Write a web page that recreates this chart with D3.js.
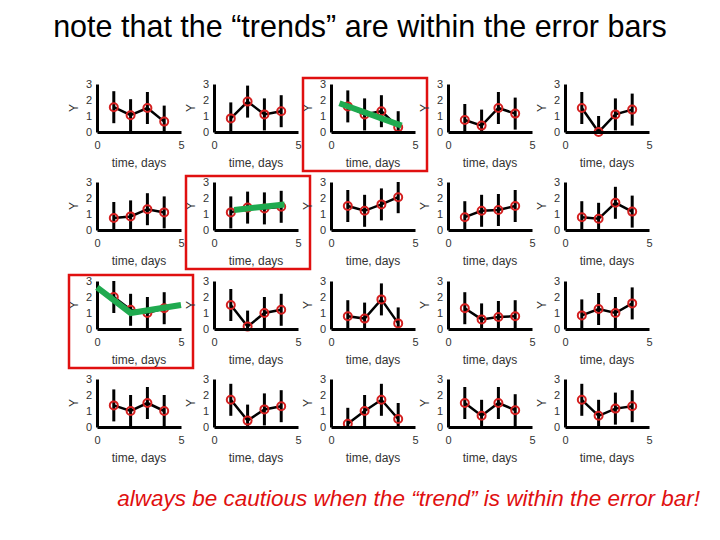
<!DOCTYPE html>
<html>
<head>
<meta charset="utf-8">
<title>trends within error bars</title>
<script src="https://cdn.jsdelivr.net/npm/d3@7"></script>
<style>
body { margin: 0; background: #fff; }
text { font-family: "Liberation Sans", Arial, sans-serif; }
</style>
</head>
<body>
<script>
var days = [1, 2, 3, 4];
var errHalf = 1;
var panels = [
  [1.55, 1.05, 1.5, 0.65], [0.85, 1.9, 1.1, 1.3], [1.6, 1.1, 1.3, 0.3], [0.75, 0.4, 1.5, 1.15], [1.5, 0, 1.1, 1.4],
  [0.75, 0.85, 1.3, 1.1], [1.1, 1.4, 1.35, 1.45], [1.5, 1.2, 1.6, 2.05], [0.8, 1.2, 1.25, 1.5], [0.8, 0.7, 1.7, 1.15],
  [2.0, 1.2, 1.0, 1.3], [1.5, 0.15, 1.0, 1.2], [0.8, 0.65, 1.85, 0.35], [1.3, 0.6, 0.75, 0.8], [0.85, 1.25, 1.0, 1.6],
  [1.35, 1.0, 1.5, 1.0], [1.7, 0.4, 1.1, 1.3], [0.2, 1.0, 1.7, 0.5], [1.5, 0.7, 1.5, 1.05], [1.7, 0.7, 1.15, 1.3]
];
// green "trend" lines, keyed by panel index
var trends = {
  2: [[0.5, 1.8], [4.2, 0.4]],
  6: [[1.2, 1.25], [4.2, 1.6]],
  10: [[0, 2.6], [2, 1.0], [5, 1.5]]
};
var xTicks = [0, 5];
var yTicks = [0, 1, 2, 3];

var colX = [97, 214, 331, 448, 565];
var rowY = [84, 182, 281, 379];
var pw = 84, ph = 48;

var svg = d3.select("body").append("svg").attr("width", 720).attr("height", 540);

svg.append("text").attr("x", 360).attr("y", 37).attr("text-anchor", "middle")
  .style("font-size", "30.5px").text("note that the \u201ctrends\u201d are within the error bars");

panels.forEach(function(vals, i) {
  var r = Math.floor(i / 5), c = i % 5;
  var g = svg.append("g").attr("transform", "translate(" + colX[c] + "," + rowY[r] + ")");
  var x = d3.scaleLinear().domain([0, 5]).range([0, pw]);
  var y = d3.scaleLinear().domain([0, 3]).range([ph, 0]);

  var pts = days.map(function(d, k) { return { d: d, v: vals[k] }; });

  g.selectAll(".eb").data(pts).enter().append("line")
    .attr("x1", function(p) { return x(p.d); }).attr("x2", function(p) { return x(p.d); })
    .attr("y1", function(p) { return y(Math.max(0, p.v - errHalf)); })
    .attr("y2", function(p) { return y(Math.min(3, p.v + errHalf)); })
    .attr("stroke", "#000").attr("stroke-width", 3);

  g.append("path").datum(pts)
    .attr("d", d3.line().x(function(p) { return x(p.d); }).y(function(p) { return y(p.v); }))
    .attr("fill", "none").attr("stroke", "#000").attr("stroke-width", 2.5);

  g.selectAll(".pt").data(pts).enter().append("circle")
    .attr("cx", function(p) { return x(p.d); }).attr("cy", function(p) { return y(p.v); })
    .attr("r", 4).attr("fill", "none").attr("stroke", "#d42020").attr("stroke-width", 2);

  var yAxis = g.append("g").call(d3.axisLeft(y).tickValues(yTicks).tickFormat(d3.format("d")).tickSize(0).tickPadding(5));
  var xAxis = g.append("g").attr("transform", "translate(0," + ph + ")")
    .call(d3.axisBottom(x).tickValues(xTicks).tickFormat(d3.format("d")).tickSize(0).tickPadding(9));
  [yAxis, xAxis].forEach(function(a) {
    a.select(".domain").attr("stroke", "#000").attr("stroke-width", 3);
    a.selectAll("text").style("font-size", "11px").attr("fill", "#333");
  });

  g.append("text").attr("x", pw / 2).attr("y", ph + 35).attr("text-anchor", "middle")
    .style("font-size", "12px").attr("fill", "#333").text("time, days");
  g.append("text").attr("transform", "translate(-19," + (ph / 2) + ") rotate(-90)")
    .attr("text-anchor", "middle").style("font-size", "12px").attr("fill", "#333").text("Y");

  if (trends[i]) {
    g.append("path").datum(trends[i])
      .attr("d", d3.line().x(function(p) { return x(p[0]); }).y(function(p) { return y(p[1]); }))
      .attr("fill", "none").attr("stroke", "#1faa4f").attr("stroke-width", 6);
    g.append("rect").attr("x", -28).attr("y", -6).attr("width", 124).attr("height", 93)
      .attr("fill", "none").attr("stroke", "#e01010").attr("stroke-width", 2.5);
  }
});

svg.append("text").attr("x", 700).attr("y", 506).attr("text-anchor", "end")
  .style("font-size", "22.5px").style("font-style", "italic").attr("fill", "#e01010")
  .text("always be cautious when the \u201ctrend\u201d is within the error bar!");
</script>
</body>
</html>
